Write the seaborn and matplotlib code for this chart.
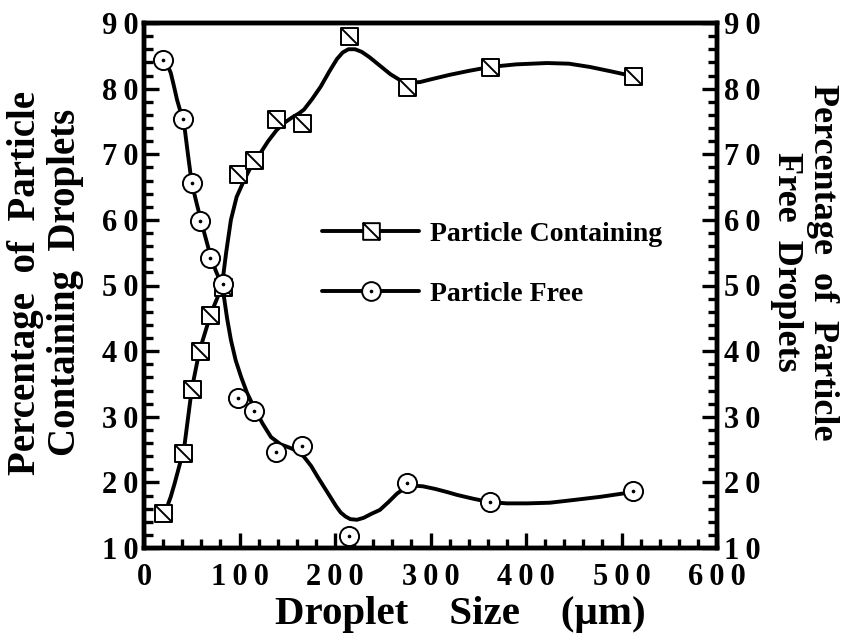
import matplotlib
matplotlib.use("Agg")
import matplotlib.pyplot as plt
from matplotlib.path import Path
from matplotlib.lines import Line2D
from matplotlib.ticker import MultipleLocator, FuncFormatter
import seaborn as sns

# ---- data ----
droplet_size = [20, 41, 50, 59, 69, 83, 98, 115, 138, 165, 215, 275, 362, 512]
containing_pct = [15.3, 24.5, 34.3, 40.0, 45.5, 49.8, 67.0, 69.1, 75.4, 74.8, 88.0, 80.3, 83.3, 82.0]
free_pct = [84.4, 75.4, 65.6, 59.8, 54.2, 50.2, 32.8, 30.9, 24.6, 25.5, 11.8, 19.9, 17.0, 18.7]

# smooth fitted curves
fit_size_containing = [20, 24, 28, 32, 36.6, 42, 50, 58, 70, 81.5, 86, 91, 97, 105, 113, 122, 130, 139,
                       148, 155, 162, 167.5, 176, 185, 194, 202, 208, 214, 221, 228, 236, 247, 258,
                       268, 278, 289, 300, 320, 340, 362, 390, 422, 445, 467, 490, 512]
fit_containing = [15.3, 16.2, 17.8, 19.8, 22.3, 25.2, 34.2, 40.0, 45.7, 49.8, 55.0, 60.0, 63.5, 66.1,
                  68.4, 70.2, 72.0, 73.7, 74.9, 75.6, 76.2, 76.8, 78.4, 80.3, 82.6, 84.5, 85.5, 86.0,
                  86.0, 85.6, 84.8, 83.5, 82.2, 81.3, 80.9, 81.0, 81.4, 82.1, 82.7, 83.3, 83.7, 83.9,
                  83.8, 83.3, 82.6, 81.9]
fit_size_free = [20, 24, 28, 31, 34.6, 38, 41.5, 46, 50, 55, 60, 65, 70, 75, 80.5, 83.8, 87, 91, 96,
                 101.6, 108, 115, 124, 133, 143, 154, 161, 167.5, 175, 182, 188.5, 195, 201, 206, 211,
                 216, 223, 230, 238, 247, 256, 265, 275, 283, 292, 305, 318, 327.5, 345, 362, 380, 401,
                 425, 449, 478, 506, 512]
fit_free = [84.4, 83.8, 82.4, 80.6, 78.3, 76.6, 75.2, 70.0, 65.6, 62.6, 59.7, 57.0, 54.3, 52.3, 50.4,
            48.2, 45.0, 41.7, 38.6, 36.1, 33.6, 31.5, 29.0, 26.9, 25.8, 25.2, 24.7, 23.9, 22.5, 20.8,
            19.3, 17.8, 16.4, 15.4, 14.8, 14.4, 14.3, 14.6, 15.2, 15.8, 17.0, 18.3, 19.3, 19.5, 19.4,
            19.0, 18.5, 18.1, 17.5, 17.0, 16.8, 16.8, 16.9, 17.3, 17.8, 18.4, 18.7]

x_ticks = [0, 100, 200, 300, 400, 500, 600]
y_ticks = [10, 20, 30, 40, 50, 60, 70, 80, 90]
series_labels = ["Particle Containing", "Particle Free"]

# ---- style ----
sns.set_style("ticks")
plt.rcParams["font.family"] = ["Liberation Serif", "DejaVu Serif"]
plt.rcParams["font.weight"] = "bold"
for key in ("text.color", "axes.labelcolor", "xtick.color", "ytick.color",
            "xtick.labelcolor", "ytick.labelcolor", "axes.edgecolor"):
    plt.rcParams[key] = "black"

fig = plt.figure(figsize=(8.43, 6.38), dpi=100)
ax = fig.add_axes([144 / 843, 1 - 548 / 638, (717 - 144) / 843, (548 - 23) / 638])
ax2 = ax.twinx()

# custom markers
sq = Path([(-1, -1), (1, -1), (1, 1), (-1, 1), (-1, -1)],
          [Path.MOVETO, Path.LINETO, Path.LINETO, Path.LINETO, Path.CLOSEPOLY])
diag = Path([(-1, 1), (1, -1)], [Path.MOVETO, Path.LINETO])
square_marker = Path.make_compound_path(sq, diag)
circle_marker = Path.make_compound_path(Path.unit_circle(), Path.circle((0, 0), 0.09))

lw = 2.8
sns.lineplot(x=fit_size_containing, y=fit_containing, ax=ax, color="black", linewidth=lw,
             sort=False, estimator=None, zorder=2)
sns.scatterplot(x=droplet_size, y=containing_pct, ax=ax, marker=square_marker, s=150,
                facecolor="white", edgecolor="black", linewidth=1.4, zorder=3)

sns.lineplot(x=fit_size_free, y=fit_free, ax=ax2, color="black", linewidth=lw,
             sort=False, estimator=None, zorder=2)
sns.scatterplot(x=droplet_size, y=free_pct, ax=ax2, marker=circle_marker, s=190,
                facecolor="white", edgecolor="black", linewidth=1.4, zorder=3)

spaced = FuncFormatter(lambda v, pos: "\u2009".join(str(int(round(v)))))
for a in (ax, ax2):
    a.set_xlim(0, 600)
    a.set_ylim(10, 90)
    a.set_yticks(y_ticks)
    a.yaxis.set_minor_locator(MultipleLocator(2))
    a.yaxis.set_major_formatter(spaced)
    for s in a.spines.values():
        s.set_linewidth(3.2)
        s.set_color("black")

ax.set_xticks(x_ticks)
ax.xaxis.set_minor_locator(MultipleLocator(20))
ax.xaxis.set_major_formatter(spaced)

ax.tick_params(axis="both", which="major", direction="in", length=11, width=2.4,
               labelsize=22, pad=4, color="black")
ax.tick_params(axis="both", which="minor", direction="in", length=6.5, width=2.4, color="black")
ax.tick_params(axis="y", which="both", left=True, right=False)
ax.tick_params(axis="x", which="both", top=False)
ax.tick_params(axis="x", which="major", pad=11)
ax2.tick_params(axis="y", which="major", direction="in", length=11, width=2.4,
                labelsize=22, pad=5, right=True, left=False)
ax2.tick_params(axis="y", which="minor", direction="in", length=6.5, width=2.4,
                right=True, left=False)
for lab in ax.get_xticklabels() + ax.get_yticklabels() + ax2.get_yticklabels():
    lab.set_fontweight("bold")

ax.set_xlabel("Droplet    Size    (\u03bcm)", fontsize=29.5, fontweight="bold")
ax.xaxis.set_label_coords(0.5515, -0.092)
ax.set_ylabel("Percentage  of  Particle\nContaining  Droplets", fontsize=28, fontweight="bold",
              linespacing=1.12)
ax.yaxis.set_label_coords(-0.104, 0.505)
ax2.set_ylabel("Percentage  of  Particle\nFree  Droplets", fontsize=26, fontweight="bold",
               rotation=270, va="bottom", linespacing=1.1)
ax2.yaxis.set_label_coords(1.093, 0.545)

# legend
handles = [
    Line2D([], [], color="black", linewidth=lw, marker=square_marker, markersize=12,
           markerfacecolor="white", markeredgecolor="black", markeredgewidth=1.4),
    Line2D([], [], color="black", linewidth=lw, marker=circle_marker, markersize=13.5,
           markerfacecolor="white", markeredgecolor="black", markeredgewidth=1.4),
]
leg = ax2.legend(handles, series_labels, loc="center left", bbox_to_anchor=(0.311, 0.541),
                 frameon=False, fontsize=20, handlelength=3.5, handletextpad=0.38,
                 labelspacing=1.25, borderpad=0, borderaxespad=0, numpoints=1)
for t in leg.get_texts():
    t.set_fontweight("bold")

fig.savefig("out.png", dpi=100)
